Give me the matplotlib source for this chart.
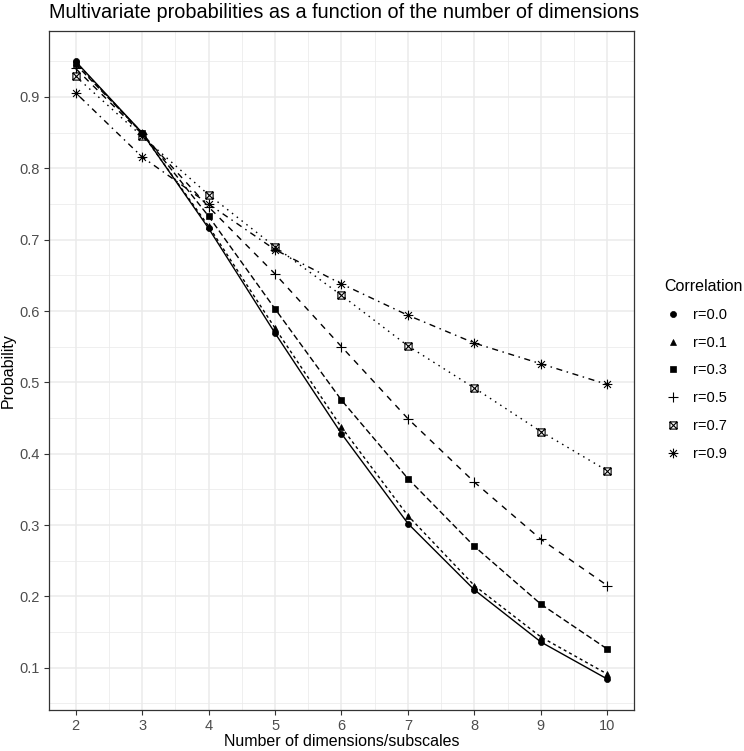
"""Multivariate probabilities vs number of dimensions, one line per correlation"""

import matplotlib
matplotlib.use("Agg")
import matplotlib.pyplot as plt
from matplotlib.lines import Line2D
from matplotlib.path import Path
from matplotlib.ticker import MultipleLocator, FormatStrFormatter

plt.rcParams["font.family"] = ["Liberation Sans", "DejaVu Sans"]
plt.rcParams["lines.scale_dashes"] = False

# data
dimensions = [2, 3, 4, 5, 6, 7, 8, 9, 10]
labels = ["r=0.0", "r=0.1", "r=0.3", "r=0.5", "r=0.7", "r=0.9"]
prob_r00 = [0.950, 0.850, 0.716, 0.569, 0.428, 0.302, 0.209, 0.136, 0.084]
prob_r01 = [0.949, 0.849, 0.719, 0.576, 0.437, 0.313, 0.215, 0.143, 0.091]
prob_r03 = [0.946, 0.850, 0.733, 0.603, 0.475, 0.365, 0.270, 0.189, 0.126]
prob_r05 = [0.940, 0.848, 0.746, 0.652, 0.550, 0.449, 0.360, 0.280, 0.215]
prob_r07 = [0.929, 0.845, 0.763, 0.690, 0.622, 0.551, 0.492, 0.431, 0.376]
prob_r09 = [0.906, 0.816, 0.750, 0.686, 0.638, 0.594, 0.555, 0.526, 0.497]
series = [prob_r00, prob_r01, prob_r03, prob_r05, prob_r07, prob_r09]

# ggplot shape 7 (square with a cross) and shape 8 (asterisk) as open paths
M, L, C = Path.MOVETO, Path.LINETO, Path.CLOSEPOLY
square_cross = Path(
    [(-1, -1), (1, -1), (1, 1), (-1, 1), (-1, -1),
     (-1, -1), (1, 1), (-1, 1), (1, -1)],
    [M, L, L, L, C, M, L, M, L])
d = 0.7071
asterisk = Path(
    [(0, -1), (0, 1), (-1, 0), (1, 0), (-d, -d), (d, d), (-d, d), (d, -d)],
    [M, L, M, L, M, L, M, L])

markers = ["o", "^", "s", "+", square_cross, asterisk]
marker_sizes = [4.4, 4.8, 4.6, 7.5, 5.2, 7.0]
edge_widths = [0.5, 0.5, 0.5, 0.8, 0.8, 0.8]
face_colors = ["black", "black", "black", "none", "none", "none"]
dashes = [None, (2.2, 2.2), (4.4, 2.2), (4.4, 4.4), (1.1, 3.3), (1.1, 3.3, 4.4, 3.3)]

W, H = 744, 751
fig = plt.figure(figsize=(W / 100, H / 100), dpi=100)
left, right, top, bottom = 49, 634, 31, 710
ax = fig.add_axes([left / W, 1 - bottom / H, (right - left) / W, (bottom - top) / H])

for vals, mk, ms, ew, fc, ds in zip(series, markers, marker_sizes, edge_widths,
                                     face_colors, dashes):
    line, = ax.plot(dimensions, vals, color="black", linewidth=1.0,
                    marker=mk, markersize=ms, markeredgewidth=ew,
                    markerfacecolor=fc, markeredgecolor="black", zorder=3)
    if ds is not None:
        line.set_dashes(ds)

ax.set_xlim(1.6, 10.4)
ax.set_ylim(0.0407, 0.9925)
ax.xaxis.set_major_locator(MultipleLocator(1))
ax.xaxis.set_minor_locator(MultipleLocator(0.5))
ax.yaxis.set_minor_locator(MultipleLocator(0.05))
ax.set_yticks([0.1, 0.2, 0.3, 0.4, 0.5, 0.6, 0.7, 0.8, 0.9])
ax.yaxis.set_major_formatter(FormatStrFormatter("%.1f"))

ax.grid(which="major", color="#EBEBEB", linewidth=1.1, zorder=0)
ax.grid(which="minor", color="#EBEBEB", linewidth=0.55, zorder=0)
ax.set_axisbelow(True)
ax.tick_params(which="minor", length=0)
ax.tick_params(which="major", length=3.5, width=0.8, color="#333333",
               labelcolor="#4D4D4D", labelsize=10.5, pad=3)
for sp in ax.spines.values():
    sp.set_color("#333333")
    sp.set_linewidth(0.9)

ax.set_xlabel("Number of dimensions/subscales", fontsize=11.5, labelpad=1)
ax.set_ylabel("Probability", fontsize=11.5, labelpad=3)
ax.set_title("Multivariate probabilities as a function of the number of dimensions",
             fontsize=14.3, loc="left", pad=9)

handles = [Line2D([], [], color="black", linestyle="none", marker=mk, markersize=ms,
                  markeredgewidth=ew, markerfacecolor=fc, markeredgecolor="black")
           for mk, ms, ew, fc in zip(markers, marker_sizes, edge_widths, face_colors)]
leg = fig.legend(handles, labels, title="Correlation", loc="center left",
                 bbox_to_anchor=(651 / W, 1 - 370 / H), frameon=False,
                 fontsize=10.5, title_fontsize=11.5, handlelength=1.2,
                 labelspacing=0.95, handletextpad=0.8, alignment="left")

fig.savefig("out.png", dpi=100)
